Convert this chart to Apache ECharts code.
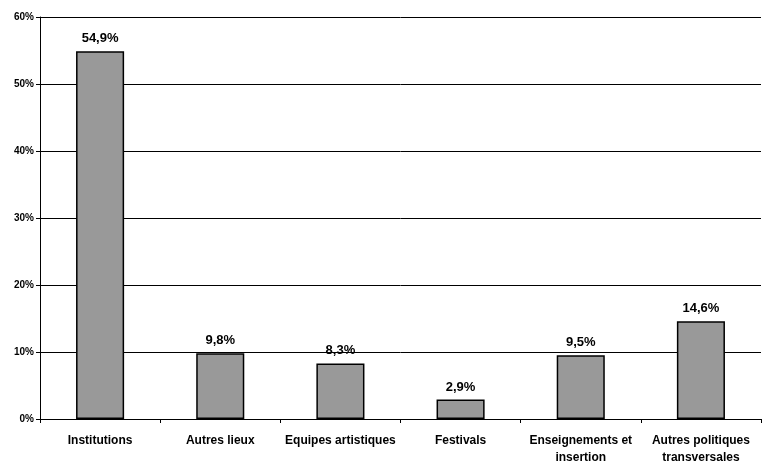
<!DOCTYPE html>
<html><head><meta charset="utf-8">
<script src="https://cdn.jsdelivr.net/npm/echarts@6/dist/echarts.min.js"></script>
<style>html,body{margin:0;padding:0;background:#fff}#c{width:762px;height:461px}</style>
</head><body><div id="c"></div>
<script>
const categories = ["Institutions", "Autres lieux", "Equipes artistiques", "Festivals", "Enseignements et\ninsertion", "Autres politiques\ntransversales"];
const values = [54.9, 9.8, 8.3, 2.9, 9.5, 14.6];
const labels = ["54,9%", "9,8%", "8,3%", "2,9%", "9,5%", "14,6%"];

const chart = echarts.init(document.getElementById('c'));
chart.setOption({
  animation: false,
  grid: {left: 40, right: 1, top: 17, bottom: 42, containLabel: false, outerBoundsMode: 'none'},
  xAxis: {
    type: 'category', data: categories,
    axisLine: {lineStyle: {color: '#000', width: 1}},
    axisTick: {show: true, alignWithLabel: false, length: 4, lineStyle: {color: '#000'}},
    axisLabel: {color: '#000', fontFamily: 'Liberation Sans, Arial', fontWeight: 'bold', fontSize: 12, margin: 13, lineHeight: 17, interval: 0}
  },
  yAxis: {
    type: 'value', min: 0, max: 60, interval: 10,
    axisLine: {show: true, lineStyle: {color: '#000'}},
    axisTick: {show: true, length: 4, lineStyle: {color: '#000'}},
    axisLabel: {color: '#000', fontFamily: 'Liberation Sans, Arial', fontWeight: 'bold', fontSize: 10, margin: 6, formatter: v => v + '%'},
    splitLine: {lineStyle: {color: '#000', width: 1}}
  },
  series: [{
    type: 'bar', data: values, barCategoryGap: '60%',
    itemStyle: {color: '#999999', borderColor: '#000', borderWidth: 1.5},
    label: {show: true, position: 'top', distance: 6, color: '#000', fontFamily: 'Liberation Sans, Arial', fontWeight: 'bold', fontSize: 13,
      formatter: p => labels[p.dataIndex]}
  }]
});
</script></body></html>
